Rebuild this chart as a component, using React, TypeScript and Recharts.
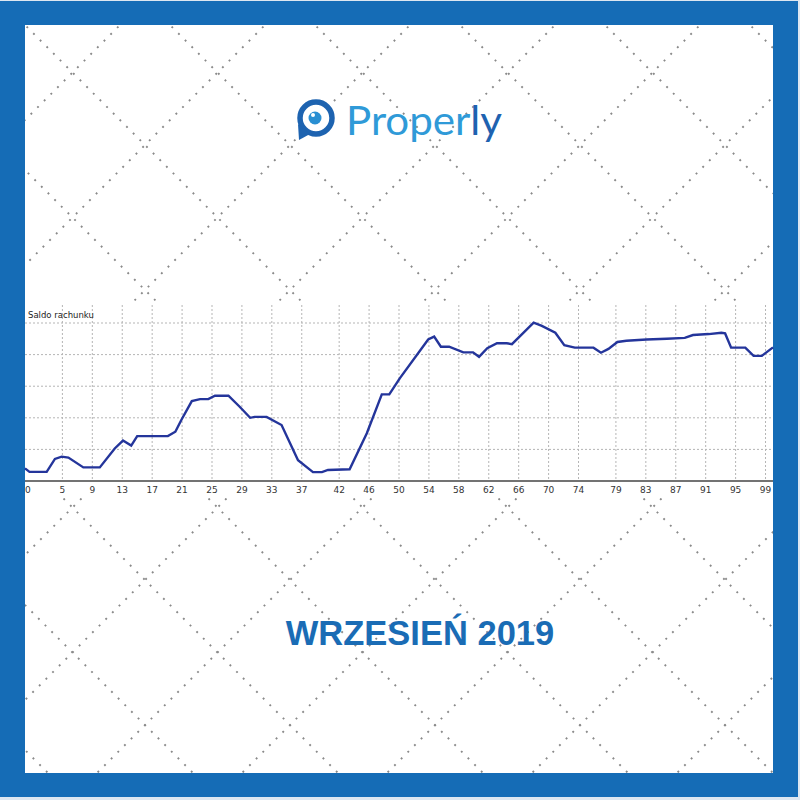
import React from 'react'
import { LineChart, Line, XAxis, YAxis, CartesianGrid } from 'recharts'

// account balance curve (x = trade no., y = balance in grid units)
const steps = [
  0, 0.6, 2.9, 4.0, 4.9, 5.8, 7.8, 10.0, 12.0, 13.1, 14.2, 15.0, 19.1, 20.1, 20.9, 22.3, 23.4,
  24.5, 25.4, 27.2, 28.7, 30.1, 30.7, 32.3, 34.3, 36.5, 38.5, 39.7, 40.5, 43.4, 45.7, 47.7,
  48.7, 50.1, 53.9, 54.7, 55.6, 56.7, 58.6, 59.9, 60.7, 61.8, 63.1, 64.4, 65.1, 68.0, 69.1,
  70.9, 72.1, 73.5, 76.0, 77.0, 78.0, 79.2, 80.4, 83.1, 85.8, 88.2, 89.3, 91.4, 93.1, 93.6,
  94.4, 96.3, 97.4, 98.5, 100,
]
const balance = [
  0.4, 0.29, 0.29, 0.7, 0.77, 0.74, 0.43, 0.43, 1.03, 1.28, 1.12, 1.42, 1.42, 1.56, 1.93, 2.53,
  2.59, 2.59, 2.7, 2.7, 2.35, 2.0, 2.03, 2.03, 1.77, 0.66, 0.28, 0.28, 0.35, 0.37, 1.51, 2.74,
  2.74, 3.25, 4.48, 4.57, 4.25, 4.25, 4.07, 4.07, 3.93, 4.2, 4.36, 4.36, 4.33, 5.01, 4.91,
  4.69, 4.3, 4.22, 4.22, 4.06, 4.18, 4.4, 4.44, 4.48, 4.5, 4.53, 4.62, 4.65, 4.69, 4.67,
  4.22, 4.22, 3.96, 3.96, 4.23,
]
const xTicks = [0, 5, 9, 13, 17, 21, 25, 29, 33, 37, 42, 46, 50, 54, 58, 62, 66, 70, 74, 79, 83, 87, 91, 95, 99]
const yGrid = [1, 2, 3, 4, 5]

const data = steps.map((s, i) => ({ step: s, balance: balance[i] }))

const BLUE = '#156cb6'

const renderTick = ({ x, y, payload, index }: any) => (
  <g key={`lbl-${index}`} transform={`translate(${x},${y})`}>
    <text
      dy={3.5}
      textAnchor={payload.value === 0 ? 'start' : 'middle'}
      fontSize={9}
      fontFamily="'DejaVu Sans', sans-serif"
      fill="#333"
    >
      {String(payload.value)}
    </text>
  </g>
)

// dotted diamond lattice behind everything
function Pattern() {
  const lines = []
  for (let k = -6; k <= 11; k++) {
    const c = k * 145
    lines.push(<line key={`a${k}`} x1={c} y1={0} x2={c + 800} y2={800} />)
    lines.push(<line key={`b${k}`} x1={c} y1={0} x2={c - 800} y2={800} />)
  }
  return (
    <g stroke="#8a8a8a" strokeWidth={1.9} strokeDasharray="1.9 7.5">
      {lines}
    </g>
  )
}

export default function App() {
  return (
    <div style={{ position: 'absolute', left: 0, top: 0, width: 800, height: 800, background: '#dde7f1' }}>
      <div style={{ position: 'absolute', left: 0, top: 1, width: 798, height: 796, background: BLUE }} />
      <div style={{ position: 'absolute', left: 25, top: 25, width: 748, height: 748, background: '#fff', overflow: 'hidden' }}>
        <svg width={800} height={800} style={{ position: 'absolute', left: -25, top: -25 }}>
          <Pattern />
          {/* logo */}
          <circle cx={316} cy={118} r={16} fill="#fff" stroke="#1d63b0" strokeWidth={5.5} />
          <path d="M298 124 L299 140 L310 134 Z" fill="#1d63b0" />
          <circle cx={315} cy={118} r={6.5} fill="#2a8fd2" />
          <circle cx={313} cy={115} r={2} fill="#fff" />
          <text
            x={346}
            y={135}
            fontSize={40}
            fontFamily="Lato, 'Open Sans', sans-serif"
            textLength={156}
            lengthAdjust="spacingAndGlyphs"
          >
            <tspan fill="#2f9ad8">Proper</tspan>
            <tspan fill="#1e62b0">ly</tspan>
          </text>
          {/* title */}
          <text
            x={420}
            y={645}
            textAnchor="middle"
            fontSize={34.5}
            fontWeight="bold"
            fontFamily="Liberation Sans, Arial, sans-serif"
            fill="#1a6cb5"
          >
            WRZESIEŃ 2019
          </text>
        </svg>
      </div>

      {/* white panel the chart sits on */}
      <div style={{ position: 'absolute', left: 25, top: 302, width: 748, height: 196, background: '#fff' }} />
      <div style={{ position: 'absolute', left: 5, top: 302, width: 788, height: 196, zIndex: 2 }}>
        <LineChart width={788} height={196} data={data} margin={{ top: 3, right: 20, left: 20, bottom: 0 }}>
          <CartesianGrid
            stroke="#b5b5b5"
            strokeDasharray="2 2"
            horizontalValues={yGrid}
            verticalValues={xTicks.filter((t) => t > 0)}
          />
          <XAxis
            type="number"
            dataKey="step"
            domain={[0, 100]}
            ticks={xTicks}
            interval={0}
            minTickGap={0}
            tick={renderTick}
            tickLine={{ stroke: 'transparent' }}
            tickSize={6}
            stroke="#444"
            axisLine={{ stroke: '#444', strokeWidth: 1.5 }}
            height={17}
          />
          <YAxis hide domain={[0, 5.57]} ticks={[0, 1, 2, 3, 4, 5]} />
          <Line
            type="linear"
            dataKey="balance"
            stroke="#24359b"
            strokeWidth={2.4}
            dot={false}
            isAnimationActive={false}
          />
        </LineChart>
        <div
          style={{
            position: 'absolute',
            left: 23,
            top: 8,
            fontSize: 8.5,
            fontFamily: "'DejaVu Sans', sans-serif",
            color: '#222',
          }}
        >
          Saldo rachunku
        </div>
      </div>
    </div>
  )
}
